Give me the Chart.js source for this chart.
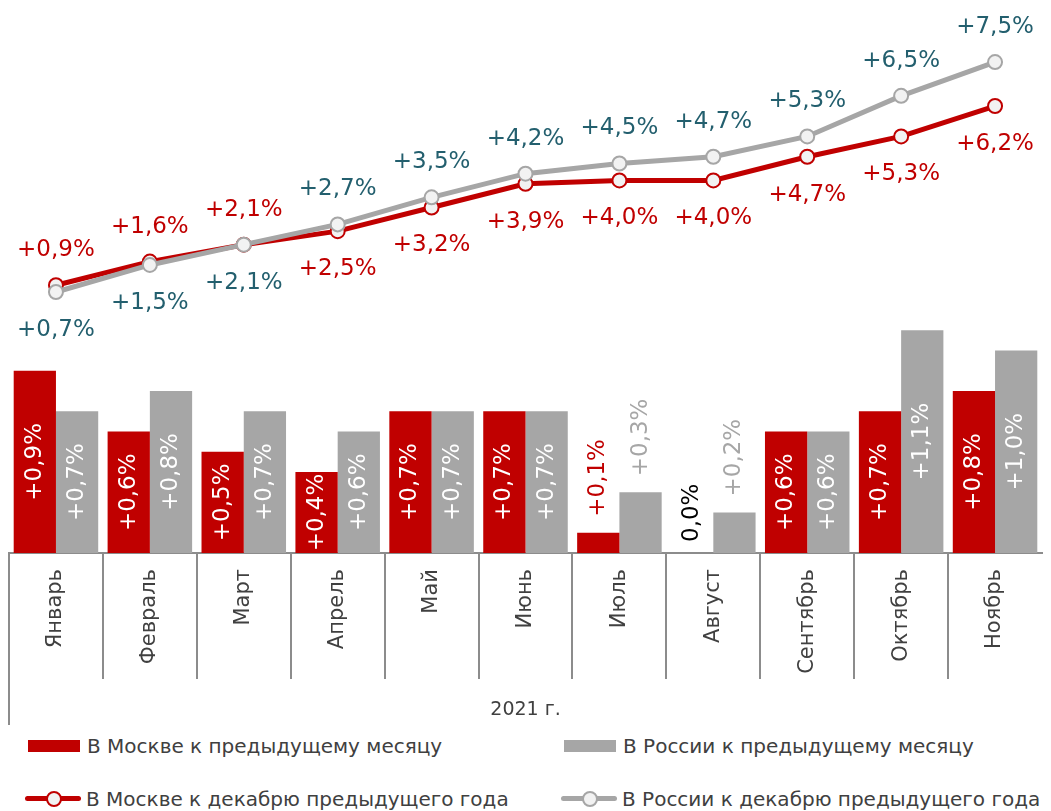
<!DOCTYPE html>
<html>
<head>
<meta charset="utf-8">
<script src="https://cdn.jsdelivr.net/npm/chart.js@4/dist/chart.umd.min.js"></script>
<style>
  body { margin: 0; background: #fff; font-family: "DejaVu Sans", sans-serif; }
  #wrap { position: relative; width: 1051px; height: 811px; }
  .leg { position: absolute; display: flex; align-items: center; font-size: 20px; color: #404040; white-space: nowrap; }
  .box { width: 52px; height: 12px; margin-right: 7px; }
  .ln { position: relative; width: 56px; height: 16px; margin-right: 5px; }
  .ln .bar { position: absolute; left: 0; right: 0; top: 5px; height: 5px; border-radius: 3px; }
  .ln .dot { position: absolute; left: 21px; top: 0; width: 12px; height: 12px; border-radius: 50%; background: #f2f2f2; border: 2px solid; }
</style>
</head>
<body>
<div id="wrap">
  <canvas id="chart" width="1051" height="730"></canvas>
  <div class="leg" style="left:28px; top:734px"><span class="box" style="background:#c00000"></span>В Москве к предыдущему месяцу</div>
  <div class="leg" style="left:564px; top:734px"><span class="box" style="background:#a6a6a6"></span>В России к предыдущему месяцу</div>
  <div class="leg" style="left:25px; top:787px"><span class="ln"><span class="bar" style="background:#c00000"></span><span class="dot" style="border-color:#c00000"></span></span>В Москве к декабрю предыдущего года</div>
  <div class="leg" style="left:561px; top:787px"><span class="ln"><span class="bar" style="background:#a6a6a6"></span><span class="dot" style="border-color:#a6a6a6"></span></span>В России к декабрю предыдущего года</div>
</div>
<script>
const months = ['Январь', 'Февраль', 'Март', 'Апрель', 'Май', 'Июнь', 'Июль', 'Август', 'Сентябрь', 'Октябрь', 'Ноябрь'];
const moscowMonth = [0.9, 0.6, 0.5, 0.4, 0.7, 0.7, 0.1, 0.0, 0.6, 0.7, 0.8];
const russiaMonth = [0.7, 0.8, 0.7, 0.6, 0.7, 0.7, 0.3, 0.2, 0.6, 1.1, 1.0];
const moscowYear = [0.9, 1.6, 2.1, 2.5, 3.2, 3.9, 4.0, 4.0, 4.7, 5.3, 6.2];
const russiaYear = [0.7, 1.5, 2.1, 2.7, 3.5, 4.2, 4.5, 4.7, 5.3, 6.5, 7.5];

const RED = '#c00000';
const GREY = '#a6a6a6';
const TEAL = '#235f6e';
const FONT = '"DejaVu Sans", sans-serif';

function fmt(v) {
    if (v === 0) return '0,0%';
    return '+' + v.toFixed(1).replace('.', ',') + '%';
}

// separators between months + the long left line
const separators = {
    id: 'separators',
    afterDraw(chart) {
        const xs = chart.scales.x;
        const ctx = chart.ctx;
        const step = xs.width / months.length;
        ctx.save();
        ctx.strokeStyle = '#8c8c8c';
        ctx.lineWidth = 2;
        for (let i = 0; i < months.length; i++) {
            const x = Math.round(xs.left + i * step);
            ctx.beginPath();
            ctx.moveTo(x, xs.top);
            ctx.lineTo(x, xs.top + (i === 0 ? 172 : 126));
            ctx.stroke();
        }
        ctx.restore();
    }
};

// value labels for bars and lines
const valueLabels = {
    id: 'valueLabels',
    afterDatasetsDraw(chart) {
        const ctx = chart.ctx;
        ctx.save();
        ctx.font = '23px ' + FONT;
        // bars
        [0, 1].forEach(di => {
            const ds = chart.data.datasets[di];
            chart.getDatasetMeta(di).data.forEach((el, i) => {
                const v = ds.data[i];
                ctx.save();
                if (v >= 0.4) {
                    ctx.translate(el.x, (el.y + el.base) / 2);
                    ctx.rotate(-Math.PI / 2);
                    ctx.textAlign = 'center';
                    ctx.textBaseline = 'middle';
                    ctx.fillStyle = '#fff';
                    ctx.fillText(fmt(v), 0, 0);
                } else {
                    ctx.translate(el.x, v === 0 ? el.base - 11 : el.y - 16);
                    ctx.rotate(-Math.PI / 2);
                    ctx.textAlign = 'left';
                    ctx.textBaseline = 'middle';
                    ctx.fillStyle = v === 0 ? '#000' : ds.backgroundColor;
                    ctx.fillText(fmt(v), 0, 0);
                }
                ctx.restore();
            });
        });
        // lines
        ctx.textAlign = 'center';
        ctx.textBaseline = 'middle';
        chart.getDatasetMeta(2).data.forEach((el, i) => {
            const up = moscowYear[i] >= russiaYear[i];
            ctx.fillStyle = RED;
            ctx.fillText(fmt(moscowYear[i]), el.x, el.y + (up ? -35 : 38));
        });
        chart.getDatasetMeta(3).data.forEach((el, i) => {
            const up = moscowYear[i] < russiaYear[i];
            ctx.fillStyle = TEAL;
            ctx.fillText(fmt(russiaYear[i]), el.x, el.y + (up ? -35 : 38));
        });
        ctx.restore();
    }
};

const ctx = document.getElementById('chart').getContext('2d');
const chart = new Chart(ctx, {
    type: 'bar',
    data: {
        labels: months,
        datasets: [
            {
                label: 'В Москве к предыдущему месяцу',
                data: moscowMonth,
                backgroundColor: RED,
                yAxisID: 'y',
                categoryPercentage: 0.9,
                barPercentage: 1.0,
                order: 2
            },
            {
                label: 'В России к предыдущему месяцу',
                data: russiaMonth,
                backgroundColor: GREY,
                yAxisID: 'y',
                categoryPercentage: 0.9,
                barPercentage: 1.0,
                order: 2
            },
            {
                type: 'line',
                label: 'В Москве к декабрю предыдущего года',
                data: moscowYear,
                borderColor: RED,
                borderWidth: 5,
                pointRadius: 7,
                pointBorderWidth: 2,
                pointBackgroundColor: '#f2f2f2',
                pointBorderColor: RED,
                yAxisID: 'y2',
                order: 1
            },
            {
                type: 'line',
                label: 'В России к декабрю предыдущего года',
                data: russiaYear,
                borderColor: GREY,
                borderWidth: 5,
                pointRadius: 7,
                pointBorderWidth: 2,
                pointBackgroundColor: '#f2f2f2',
                pointBorderColor: GREY,
                yAxisID: 'y2',
                order: 0
            }
        ]
    },
    options: {
        responsive: false,
        animation: false,
        layout: { padding: { top: 10, left: 8, right: 0, bottom: 0 } },
        plugins: {
            legend: { display: false },
            tooltip: { enabled: false }
        },
        scales: {
            x: {
                grid: { display: false, drawTicks: false },
                border: { display: true, color: '#8c8c8c', width: 2 },
                ticks: {
                    maxRotation: 90,
                    minRotation: 90,
                    padding: 16,
                    color: '#404040',
                    font: { family: FONT, size: 21 }
                },
                title: {
                    display: true,
                    text: '2021 г.',
                    color: '#404040',
                    font: { family: FONT, size: 19 },
                    padding: { top: 0, bottom: 9 }
                },
                afterFit(scale) { scale.height = 177; }
            },
            y: { display: false, min: 0, max: 2.681 },
            y2: { display: false, min: -7.017, max: 9.039 }
        }
    },
    plugins: [separators, valueLabels]
});
</script>
</body>
</html>
